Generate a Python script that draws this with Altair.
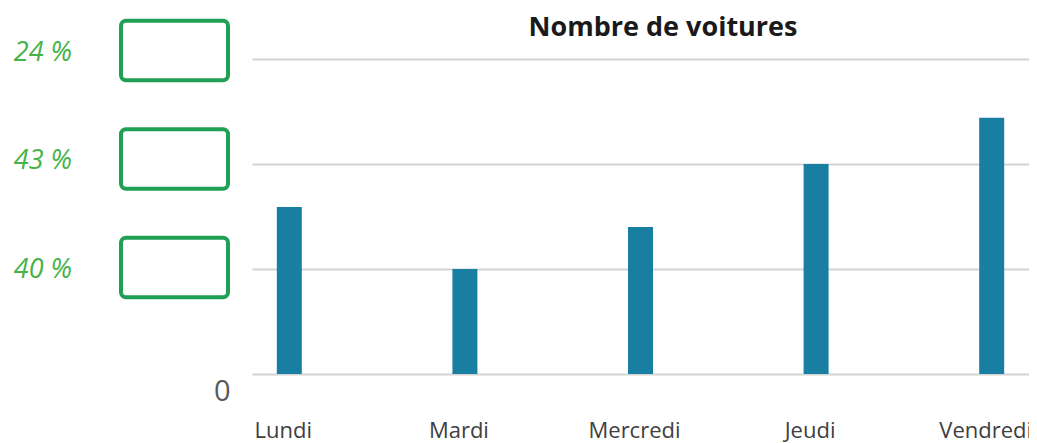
import altair as alt
import pandas as pd

# --- data ---
chart_title = ["Nombre de voitures"]
days = ["Lundi", "Mardi", "Mercredi", "Jeudi", "Vendredi"]
cars = [15.9, 10.0, 14.0, 20.0, 24.4]
grid_values = [0, 10, 20, 30]
answer_labels = ["24 %", "43 %", "40 %"]
answer_levels = [30, 20, 10]

bars_df = pd.DataFrame({"jour": days, "voitures": cars})
ann_df = pd.DataFrame({"label": answer_labels, "level": answer_levels})
title_df = pd.DataFrame({"t": chart_title})

BAR = "#187fa3"
GREEN_BOX = "#1fa055"
GREEN_TXT = "#45b347"
FONT = "Open Sans"

yscale = alt.Scale(domain=[0, 30], nice=False, zero=True)

bars = alt.Chart(bars_df).mark_bar(color=BAR, width=25).encode(
    x=alt.X(
        "jour:N",
        sort=days,
        scale=alt.Scale(paddingInner=0.575, paddingOuter=0, align=0),
        axis=alt.Axis(
            title=None, domain=False, ticks=False, labelAngle=0,
            labelFont=FONT, labelFontSize=22, labelColor="#404040",
            labelBaseline="alphabetic", labelPadding=63, labelOffset=-6,
        ),
    ),
    y=alt.Y(
        "voitures:Q",
        scale=yscale,
        axis=alt.Axis(
            title=None, domain=False, ticks=False, grid=True,
            values=grid_values, gridColor="#d4d4d4", gridWidth=2,
            labelExpr="datum.value == 0 ? '0' : ''",
            labelFont=FONT, labelFontSize=29, labelColor="#595959",
            labelBaseline="alphabetic", labelOffset=26, labelPadding=22,
        ),
    ),
)

ann_scale = alt.Scale(domain=[0, 30], nice=False, range=[317, -8.5])

boxes = alt.Chart(ann_df).transform_calculate(
    top="datum.level + 2.75", bot="datum.level - 2.75"
).mark_rect(
    fill="white", stroke=GREEN_BOX, strokeWidth=4, cornerRadius=5
).encode(
    x=alt.value(-131),
    x2=alt.value(-24),
    y=alt.Y("top:Q", scale=ann_scale, axis=None),
    y2="bot:Q",
)

texts = alt.Chart(ann_df).mark_text(
    font=FONT, fontSize=27, fontStyle="italic", color=GREEN_TXT,
    align="right", baseline="middle", dy=2,
).encode(
    x=alt.value(-180),
    y=alt.Y("level:Q", scale=ann_scale, axis=None),
    text="label:N",
)

title_mark = alt.Chart(title_df).mark_text(
    font=FONT, fontSize=27, fontWeight="bold", color="#1a1a1a",
    align="center", baseline="alphabetic",
).encode(
    x=alt.value(411),
    y=alt.value(-23),
    text="t:N",
)

chart = alt.layer(bars, alt.layer(boxes, texts, title_mark)).resolve_scale(
    y="independent"
).properties(
    width=777,
    height=315,
    autosize=alt.AutoSizeParams(type="none"),
    padding={"left": 244, "top": 51, "right": 0, "bottom": 80},
    background="white",
).configure_view(stroke=None)

chart.save("out.html", embed_options={"renderer": "svg", "actions": False})
